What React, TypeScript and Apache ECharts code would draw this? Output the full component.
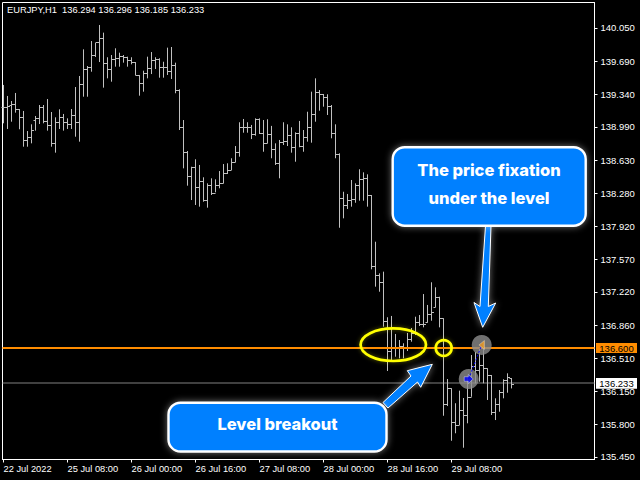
import React, { useEffect, useRef } from "react";
import * as echarts from "echarts";

const symbolName = "EURJPY,H1";
const timeTicks = [0, 16, 32, 48, 64, 80, 96, 112];
const timeLabels = ["22 Jul 2022", "25 Jul 08:00", "26 Jul 00:00", "26 Jul 16:00", "27 Jul 08:00", "28 Jul 00:00", "28 Jul 16:00", "29 Jul 08:00"];
const priceTicks = [135.45, 135.8, 136.15, 136.51, 136.86, 137.22, 137.57, 137.92, 138.28, 138.63, 138.99, 139.34, 139.69, 140.05];

const opens = [
  139.203, 139.206, 139.227, 139.235, 139.181, 139.099, 138.846, 138.878, 139.063, 139.081,
  139.199, 139.056, 139.013, 138.82, 139.045, 139.092, 139.039, 139.02, 139.114, 139.039,
  139.446, 139.607, 139.628, 139.76, 139.896, 139.939, 139.674, 139.607, 139.721, 139.725,
  139.753, 139.739, 139.707, 139.685, 139.546, 139.457, 139.57, 139.621, 139.71, 139.717,
  139.635, 139.632, 139.592, 139.653, 139.382, 138.985, 138.717, 138.46, 138.556, 138.348,
  138.412, 138.205, 138.366, 138.284, 138.366, 138.384, 138.492, 138.527, 138.61, 138.723,
  138.991, 138.991, 138.985, 138.908, 139.074, 138.921, 138.813, 138.913, 138.749, 138.605,
  138.824, 138.838, 138.899, 138.771, 138.927, 138.788, 138.878, 138.991, 139.124, 139.36,
  139.342, 139.313, 139.217, 138.921, 138.695, 138.224, 138.152, 138.205, 138.216, 138.366,
  138.431, 138.438, 138.259, 137.501, 137.401, 137.323, 136.911, 136.589, 136.632, 136.632,
  136.643, 136.618, 136.715, 136.779, 136.9, 136.873, 136.897, 136.98, 137.058, 137.168,
  136.937, 136.015, 136.186, 135.822, 135.793, 135.954, 135.9, 136.096, 136.425, 136.382,
  136.436, 136.401, 136.329, 135.935, 136.018, 136.147, 136.275, 136.294,
];
const highs = [
  139.439, 139.321, 139.267, 139.353, 139.181, 139.16, 138.945, 139.017, 139.106, 139.224,
  139.224, 139.288, 139.149, 139.092, 139.178, 139.128, 139.081, 139.181, 139.417, 139.535,
  139.821, 139.642, 139.91, 139.889, 140.082, 140.0, 139.736, 139.76, 139.832, 139.785,
  139.76, 139.742, 139.736, 139.685, 139.546, 139.592, 139.742, 139.792, 139.736, 139.725,
  139.688, 139.839, 139.846, 139.678, 139.392, 139.063, 138.731, 138.562, 138.642, 138.581,
  138.449, 138.384, 138.438, 138.427, 138.516, 138.591, 138.599, 138.653, 138.784, 139.039,
  139.074, 139.039, 139.01, 139.081, 139.081, 139.063, 139.071, 139.0, 138.813, 138.849,
  139.039, 139.017, 138.985, 138.931, 139.053, 138.956, 139.152, 139.367, 139.51, 139.385,
  139.342, 139.339, 139.224, 139.017, 138.706, 138.294, 138.27, 138.42, 138.384, 138.535,
  138.502, 138.481, 138.259, 137.758, 137.419, 137.437, 136.948, 136.962, 136.769, 136.704,
  136.669, 136.779, 136.833, 136.954, 136.972, 137.197, 137.08, 137.323, 137.269, 137.168,
  136.937, 136.286, 136.186, 136.026, 136.161, 136.082, 136.304, 136.543, 136.576, 136.618,
  136.686, 136.401, 136.329, 136.079, 136.168, 136.283, 136.347, 136.296,
];
const lows = [
  139.028, 138.967, 139.045, 139.142, 138.964, 138.777, 138.777, 138.813, 138.949, 139.02,
  139.028, 138.949, 138.777, 138.713, 138.967, 138.949, 138.967, 138.967, 138.884, 138.831,
  139.313, 139.313, 139.581, 139.739, 139.685, 139.41, 139.51, 139.474, 139.635, 139.635,
  139.678, 139.635, 139.66, 139.543, 139.324, 139.367, 139.51, 139.556, 139.61, 139.517,
  139.517, 139.546, 139.503, 139.35, 138.956, 138.545, 138.359, 138.205, 138.152, 138.134,
  138.187, 138.123, 138.259, 138.288, 138.331, 138.384, 138.484, 138.527, 138.61, 138.67,
  138.927, 138.927, 138.859, 138.895, 138.913, 138.723, 138.813, 138.653, 138.581, 138.438,
  138.795, 138.784, 138.713, 138.616, 138.771, 138.723, 138.831, 138.82, 139.045, 139.163,
  139.206, 139.117, 138.867, 138.653, 137.908, 138.009, 138.109, 138.134, 138.176, 138.198,
  138.198, 138.134, 137.462, 137.276, 137.222, 136.847, 136.372, 136.49, 136.525, 136.508,
  136.508, 136.586, 136.686, 136.758, 136.854, 136.84, 136.89, 136.911, 137.055, 136.84,
  135.892, 135.996, 135.624, 135.704, 135.793, 135.549, 135.811, 136.096, 136.24, 136.257,
  136.24, 136.061, 135.9, 135.846, 135.935, 136.079, 136.139, 136.185,
];
const closes = [
  139.206, 139.213, 139.235, 139.181, 139.099, 138.846, 138.878, 138.956, 139.081, 139.199,
  139.056, 139.013, 138.82, 139.045, 139.092, 139.039, 139.02, 139.114, 139.039, 139.446,
  139.607, 139.628, 139.76, 139.896, 139.939, 139.674, 139.607, 139.721, 139.725, 139.753,
  139.739, 139.707, 139.685, 139.546, 139.457, 139.57, 139.621, 139.71, 139.717, 139.635,
  139.632, 139.592, 139.653, 139.382, 138.985, 138.717, 138.46, 138.556, 138.348, 138.412,
  138.205, 138.366, 138.284, 138.366, 138.384, 138.492, 138.527, 138.61, 138.723, 138.991,
  138.991, 138.985, 138.908, 139.074, 138.921, 138.813, 138.913, 138.749, 138.605, 138.824,
  138.838, 138.899, 138.771, 138.927, 138.788, 138.878, 138.991, 139.124, 139.36, 139.342,
  139.313, 139.217, 138.921, 138.695, 138.224, 138.152, 138.205, 138.216, 138.366, 138.431,
  138.438, 138.259, 137.501, 137.401, 137.323, 136.911, 136.589, 136.632, 136.632, 136.643,
  136.618, 136.715, 136.779, 136.9, 136.873, 136.876, 136.98, 137.001, 137.168, 136.937,
  136.015, 136.186, 135.822, 135.793, 135.954, 135.9, 136.096, 136.425, 136.382, 136.436,
  136.404, 136.329, 135.935, 136.018, 136.147, 136.275, 136.304, 136.233,
];

const levelPosition = 136.618;
const bidPosition = 136.243;
const levelLabel = "136.600";
const lastLabel = "136.233";
const entryPoint = [116.3, 136.286];
const exitPoint = [119.55, 136.651];

const axisFont = "'Liberation Sans', sans-serif";
const calloutFont = "Inter, 'Open Sans', sans-serif";
const blue = "#0080ff";

const ohlc = opens.map((o, i) => [i, o, highs[i], lows[i], closes[i]]);
const header = `${symbolName}  ${opens[opens.length - 1].toFixed(3)} ${highs[highs.length - 1].toFixed(3)} ${lows[lows.length - 1].toFixed(3)} ${closes[closes.length - 1].toFixed(3)}`;

function renderBar(_p: any, api: any) {
  const i = api.value(0);
  const px = (v: number) => api.coord([i, v]);
  const crisp = (y: number) => Math.round(y) + 0.5;
  const x = px(api.value(1))[0];
  const style = { stroke: "#c0c0c0", lineWidth: 1, fill: null };
  return {
    type: "group",
    children: [
      { type: "line", shape: { x1: x, y1: px(api.value(2))[1], x2: x, y2: px(api.value(3))[1] }, style },
      { type: "line", shape: { x1: x - 2, y1: crisp(px(api.value(1))[1]), x2: x, y2: crisp(px(api.value(1))[1]) }, style },
      { type: "line", shape: { x1: x, y1: crisp(px(api.value(4))[1]), x2: x + 2.5, y2: crisp(px(api.value(4))[1]) }, style },
    ],
  };
}

function option(): any {
  const glow = { shadowBlur: 7, shadowColor: "rgba(255,255,255,0.45)" };
  const ringGlow = { shadowBlur: 4, shadowColor: "rgba(255,255,0,0.35)" };
  return {
    animation: false,
    backgroundColor: "#000",
    grid: { left: 2.5, top: 2.5, right: 45.5, bottom: 20.5, show: true, borderColor: "#fff", borderWidth: 1, backgroundColor: "transparent" },
    xAxis: {
      type: "value", min: -0.25, max: 147.75,
      axisLine: { lineStyle: { color: "#fff" }, onZero: false },
      axisTick: { show: true, length: 3, lineStyle: { color: "#fff" }, customValues: timeTicks },
      axisLabel: {
        color: "#fff", fontFamily: axisFont, fontSize: 9.3, margin: 5, align: "left",
        customValues: timeTicks,
        formatter: (v: number) => timeLabels[timeTicks.indexOf(v)] ?? "",
      },
      splitLine: { show: false },
    },
    yAxis: {
      type: "value", position: "right", min: 135.4228, max: 140.3232,
      axisLine: { show: true, lineStyle: { color: "#fff" }, onZero: false },
      axisTick: { show: true, length: 3, lineStyle: { color: "#fff" }, customValues: priceTicks },
      axisLabel: {
        color: "#fff", fontFamily: axisFont, fontSize: 9.5, margin: 6,
        customValues: priceTicks,
        formatter: (v: number) => v.toFixed(3),
      },
      splitLine: { show: false },
    },
    series: [
      {
        type: "line", z: 1, symbol: "none", silent: true,
        data: [[-0.25, bidPosition], [147.75, bidPosition]],
        lineStyle: { color: "#808080", width: 1 },
      },
      { type: "custom", z: 2, silent: true, renderItem: renderBar, data: ohlc, encode: { x: 0, y: [1, 2, 3, 4] } },
      {
        type: "line", z: 3, symbol: "none", silent: true,
        data: [[-0.25, levelPosition], [147.75, levelPosition]],
        lineStyle: { color: "#ff8c00", width: 2 },
      },
      {
        type: "scatter", z: 4, silent: true, symbol: "circle", symbolSize: 20,
        data: [entryPoint, exitPoint], itemStyle: { color: "#8c8c8c" },
      },
      {
        type: "line", z: 5, symbol: "none", silent: true,
        data: [entryPoint, exitPoint], lineStyle: { color: "#0000ff", width: 1, type: [2, 2] },
      },
      {
        type: "scatter", z: 6, silent: true, symbol: "triangle", symbolSize: [9, 5.5], symbolRotate: 90,
        data: [exitPoint], itemStyle: { color: "#f09a20", borderColor: "#fff", borderWidth: 0.4 },
      },
      {
        type: "scatter", z: 6, silent: true, symbol: "path://M0 2.5H4.5V0L10 5L4.5 10V7.5H0Z", symbolSize: [9, 9],
        data: [entryPoint], itemStyle: { color: "#0000ff", borderColor: "#fff", borderWidth: 0.5 },
      },
    ],
    graphic: [
      { type: "text", z: 20, x: 7, y: 5.5, style: { text: header, fill: "#fff", font: `9.3px ${axisFont}` } },
      { type: "ellipse", z: 20, shape: { cx: 393.3, cy: 344.7, rx: 32.7, ry: 16.3 }, style: { fill: null, stroke: "#ffff00", lineWidth: 2.7, ...ringGlow } },
      { type: "circle", z: 20, shape: { cx: 443.7, cy: 348, r: 7.9 }, style: { fill: null, stroke: "#ffff00", lineWidth: 2.7, ...ringGlow } },
      {
        type: "polygon", z: 21,
        shape: { points: [[485.5, 226], [491, 226], [488.3, 306.5], [495.7, 303], [482.7, 327.3], [474, 302.5], [480, 306.5]] },
        style: { fill: blue, stroke: "#fff", lineWidth: 1, ...glow },
      },
      {
        type: "polygon", z: 21,
        shape: { points: [[383, 402.5], [411, 376], [407.3, 370.7], [432.3, 364.3], [420.7, 387.3], [417.5, 382], [388, 408]] },
        style: { fill: blue, stroke: "#fff", lineWidth: 1, ...glow },
      },
      { type: "rect", z: 22, shape: { x: 392.7, y: 147.2, width: 193, height: 78.5, r: 12 }, style: { fill: blue, stroke: "#fff", lineWidth: 2.4, ...glow } },
      { type: "rect", z: 22, shape: { x: 168.5, y: 402.7, width: 218, height: 48.8, r: 12 }, style: { fill: blue, stroke: "#fff", lineWidth: 2.4, ...glow } },
      { type: "text", z: 23, x: 489, y: 169.5, style: { text: "The price fixation", fill: "#fff", font: `800 16.5px ${calloutFont}`, textAlign: "center", textVerticalAlign: "middle" } },
      { type: "text", z: 23, x: 489, y: 197.5, style: { text: "under the level", fill: "#fff", font: `800 16.5px ${calloutFont}`, textAlign: "center", textVerticalAlign: "middle" } },
      { type: "text", z: 23, x: 277.5, y: 424, style: { text: "Level breakout", fill: "#fff", font: `800 16.5px ${calloutFont}`, textAlign: "center", textVerticalAlign: "middle" } },
      { type: "rect", z: 24, shape: { x: 596, y: 343, width: 41, height: 10 }, style: { fill: "#ff8c00" } },
      { type: "text", z: 25, x: 616.5, y: 348, style: { text: levelLabel, fill: "#000", font: `9.5px ${axisFont}`, textAlign: "center", textVerticalAlign: "middle" } },
      { type: "rect", z: 24, shape: { x: 596, y: 378, width: 41, height: 10.7 }, style: { fill: "#fff" } },
      { type: "text", z: 25, x: 616.5, y: 383.5, style: { text: lastLabel, fill: "#000", font: `9.5px ${axisFont}`, textAlign: "center", textVerticalAlign: "middle" } },
    ],
  };
}

export default function App() {
  const ref = useRef<HTMLDivElement>(null);
  useEffect(() => {
    document.body.style.margin = "0";
    document.body.style.background = "#000";
    const chart = echarts.init(ref.current!, undefined, { renderer: "svg" });
    chart.setOption(option());
    return () => chart.dispose();
  }, []);
  return <div ref={ref} style={{ position: "fixed", left: 0, top: 0, width: 640, height: 480 }} />;
}
